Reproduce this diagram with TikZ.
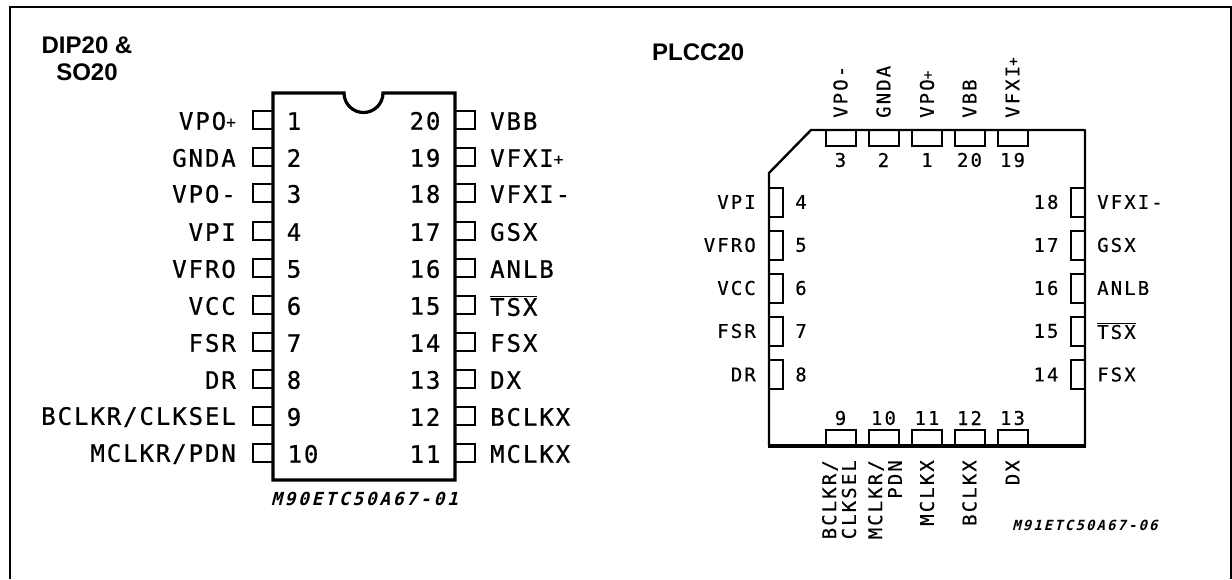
\documentclass[tikz,border=0pt]{standalone}
\usepackage{fontspec}
\setmainfont{Liberation Sans}
\newfontfamily\pinfont[LetterSpace=8,FakeBold=0.7]{DejaVu Sans Mono}
\newfontfamily\smallpinfont[LetterSpace=11,FakeBold=0.5]{DejaVu Sans Mono}
\newfontfamily\codefont[LetterSpace=15,FakeSlant=0.25]{DejaVu Sans Mono Bold}
\newcommand{\bigplus}{\raisebox{2pt}{\fontsize{16}{16}\selectfont +}}
\newcommand{\smallplus}{\raisebox{1.5pt}{\fontsize{14}{14}\selectfont +}}
\tikzset{
  bodyline/.style={line width=3.2pt,line cap=rect},
  pinbox/.style={draw,line width=2pt,minimum width=#1,inner sep=0pt},
  biglabel/.style={font=\pinfont\fontsize{24}{24}\selectfont,inner sep=0pt,yshift=-1pt},
  smalllabel/.style={font=\smallpinfont\fontsize{19}{19}\selectfont,inner sep=0pt},
  title/.style={font=\bfseries\fontsize{24}{26.5}\selectfont,inner sep=0pt,align=center},
  codelabel/.style={font=\codefont\fontsize{#1}{#1}\selectfont,inner sep=0pt},
}
\begin{document}
\begin{tikzpicture}[x=1pt,y=-1pt]
\useasboundingbox (0,0) rectangle (1232,579);
\draw[line width=1.8pt] (10,579) -- (10,7) -- (1231,7) -- (1231,579);

\node[title,anchor=north] (t1) at (87,37) {DIP20 \&\\SO20};
\node[title,anchor=west] (t2) at (652,52) {PLCC20};

% ---- DIP package
\foreach \n/\y/\lab in {1/120/{VPO\bigplus},2/157/GNDA,3/193/VPO-,4/231/VPI,5/268/VFRO,6/305/VCC,7/342/FSR,8/379/DR,9/416/{BCLKR/CLKSEL},10/453/{MCLKR/PDN}}{
  \node[pinbox=20pt,minimum height=18pt] (dl\n) at (263,\y) {};
  \node[biglabel,anchor=east] (dlt\n) at (236,\y) {\lab};
}
\foreach \n/\y/\lab in {20/120/VBB,19/157/{VFXI\bigplus},18/193/VFXI-,17/231/GSX,16/268/ANLB,15/305/{$\overline{\mbox{TSX}}$},14/342/FSX,13/379/DX,12/416/BCLKX,11/453/MCLKX}{
  \node[pinbox=20pt,minimum height=18pt] (dr\n) at (465,\y) {};
  \node[biglabel,anchor=west] (drt\n) at (490,\y) {\lab};
}
\draw[bodyline] (344,93) -- (273,93) -- (273,480) -- (455,480) -- (455,93) -- (383,93)
   arc[start angle=0,end angle=180,radius=19.5];
\foreach \n/\y in {1/120,2/157,3/193,4/231,5/268,6/305,7/342,8/379,9/416}{
  \node[biglabel] (dn\n) at (294,\y) {\n};
}
\node[biglabel] (dn10) at (303,453) {10};
\foreach \n/\y in {20/120,19/157,18/193,17/231,16/268,15/305,14/342,13/379,12/416,11/453}{
  \node[biglabel] (dn\n) at (425,\y) {\n};
}
\node[codelabel=18] (c1) at (364.5,499) {M90ETC50A67-01};

% ---- PLCC package
\foreach \n/\x/\lab in {3/840.5/VPO-,2/883.5/GNDA,1/927/{VPO\smallplus},20/969.5/VBB,19/1012.5/{VFXI\smallplus}}{
  \node[pinbox=30pt,minimum height=16pt] (pt\n) at (\x,138) {};
  \node[smalllabel] (ptn\n) at (\x,160) {\n};
  \node[smalllabel,rotate=90,anchor=west] (ptt\n) at (\x,118) {\lab};
}
\foreach \n/\x in {9/840.5,10/883.5,11/927,12/969.5,13/1012.5}{
  \node[pinbox=30pt,minimum height=16pt] (pb\n) at (\x,438) {};
  \node[smalllabel] (pbn\n) at (\x,418) {\n};
}
\draw[line width=2.4pt,line join=round] (769,446) -- (769,173) -- (811,130) -- (1085,130) -- (1085,446);
\draw[line width=3.6pt] (768,446) -- (1086,446);
\node[smalllabel,rotate=90,anchor=east] (pbt9) at (830,460) {BCLKR/};
\node[smalllabel,rotate=90,anchor=east] (pbt9b) at (849,460) {CLKSEL};
\node[smalllabel,rotate=90,anchor=east] (pbt10) at (876,460) {MCLKR/};
\node[smalllabel,rotate=90,anchor=east] (pbt10b) at (895,460) {PDN};
\node[smalllabel,rotate=90,anchor=east] (pbt11) at (927,460) {MCLKX};
\node[smalllabel,rotate=90,anchor=east] (pbt12) at (969.5,460) {BCLKX};
\node[smalllabel,rotate=90,anchor=east] (pbt13) at (1012.5,460) {DX};
\foreach \n/\y/\lab in {4/202/VPI,5/245/VFRO,6/288/VCC,7/331/FSR,8/374.5/DR}{
  \node[pinbox=14pt,minimum height=29pt] (pl\n) at (776,\y) {};
  \node[smalllabel] (pln\n) at (801,\y) {\n};
  \node[smalllabel,anchor=east] (plt\n) at (756,\y) {\lab};
}
\foreach \n/\y/\lab in {18/202/VFXI-,17/245/GSX,16/288/ANLB,15/331/{$\overline{\mbox{TSX}}$},14/374.5/FSX}{
  \node[pinbox=14pt,minimum height=29pt] (pr\n) at (1078,\y) {};
  \node[smalllabel] (prn\n) at (1046,\y) {\n};
  \node[smalllabel,anchor=west] (prt\n) at (1097,\y) {\lab};
}
\node[codelabel=14] (c2) at (1085,525) {M91ETC50A67-06};
\end{tikzpicture}
\end{document}
